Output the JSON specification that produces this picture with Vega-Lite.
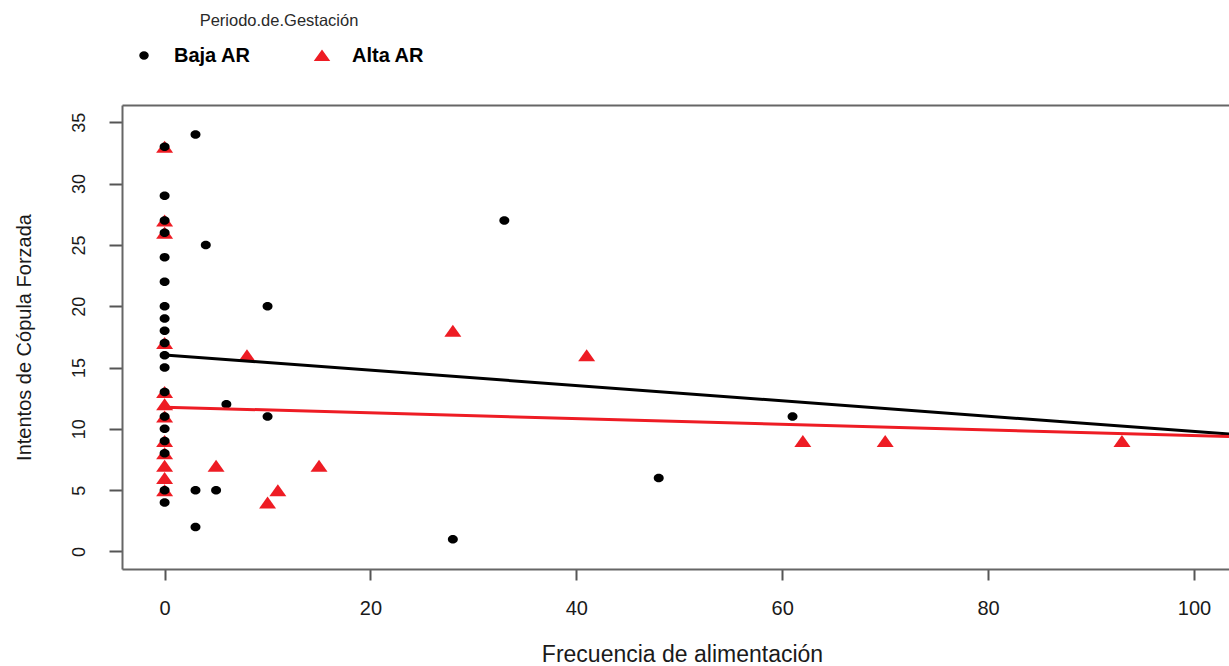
{
  "$schema": "https://vega.github.io/schema/vega-lite/v6.json",
  "width": 1107,
  "height": 464,
  "autosize": {"type": "none"},
  "padding": {"left": 122, "top": 105, "right": 0, "bottom": 97},
  "background": "white",
  "config": {"view": {"stroke": null}, "font": "Liberation Sans"},
  "datasets": {
    "puntos": [
      {"x": 0, "y": 33, "grupo": "Alta AR"},
      {"x": 0, "y": 27, "grupo": "Alta AR"},
      {"x": 0, "y": 26, "grupo": "Alta AR"},
      {"x": 0, "y": 17, "grupo": "Alta AR"},
      {"x": 0, "y": 13, "grupo": "Alta AR"},
      {"x": 0, "y": 12, "grupo": "Alta AR"},
      {"x": 0, "y": 11, "grupo": "Alta AR"},
      {"x": 0, "y": 9, "grupo": "Alta AR"},
      {"x": 0, "y": 8, "grupo": "Alta AR"},
      {"x": 0, "y": 7, "grupo": "Alta AR"},
      {"x": 0, "y": 6, "grupo": "Alta AR"},
      {"x": 0, "y": 5, "grupo": "Alta AR"},
      {"x": 8, "y": 16, "grupo": "Alta AR"},
      {"x": 5, "y": 7, "grupo": "Alta AR"},
      {"x": 10, "y": 4, "grupo": "Alta AR"},
      {"x": 11, "y": 5, "grupo": "Alta AR"},
      {"x": 15, "y": 7, "grupo": "Alta AR"},
      {"x": 28, "y": 18, "grupo": "Alta AR"},
      {"x": 41, "y": 16, "grupo": "Alta AR"},
      {"x": 62, "y": 9, "grupo": "Alta AR"},
      {"x": 70, "y": 9, "grupo": "Alta AR"},
      {"x": 93, "y": 9, "grupo": "Alta AR"},
      {"x": 0, "y": 33, "grupo": "Baja AR"},
      {"x": 0, "y": 29, "grupo": "Baja AR"},
      {"x": 0, "y": 27, "grupo": "Baja AR"},
      {"x": 0, "y": 26, "grupo": "Baja AR"},
      {"x": 0, "y": 24, "grupo": "Baja AR"},
      {"x": 0, "y": 22, "grupo": "Baja AR"},
      {"x": 0, "y": 20, "grupo": "Baja AR"},
      {"x": 0, "y": 19, "grupo": "Baja AR"},
      {"x": 0, "y": 18, "grupo": "Baja AR"},
      {"x": 0, "y": 17, "grupo": "Baja AR"},
      {"x": 0, "y": 16, "grupo": "Baja AR"},
      {"x": 0, "y": 15, "grupo": "Baja AR"},
      {"x": 0, "y": 13, "grupo": "Baja AR"},
      {"x": 0, "y": 11, "grupo": "Baja AR"},
      {"x": 0, "y": 10, "grupo": "Baja AR"},
      {"x": 0, "y": 9, "grupo": "Baja AR"},
      {"x": 0, "y": 8, "grupo": "Baja AR"},
      {"x": 0, "y": 5, "grupo": "Baja AR"},
      {"x": 0, "y": 4, "grupo": "Baja AR"},
      {"x": 3, "y": 34, "grupo": "Baja AR"},
      {"x": 4, "y": 25, "grupo": "Baja AR"},
      {"x": 10, "y": 20, "grupo": "Baja AR"},
      {"x": 6, "y": 12, "grupo": "Baja AR"},
      {"x": 10, "y": 11, "grupo": "Baja AR"},
      {"x": 3, "y": 5, "grupo": "Baja AR"},
      {"x": 5, "y": 5, "grupo": "Baja AR"},
      {"x": 3, "y": 2, "grupo": "Baja AR"},
      {"x": 28, "y": 1, "grupo": "Baja AR"},
      {"x": 33, "y": 27, "grupo": "Baja AR"},
      {"x": 48, "y": 6, "grupo": "Baja AR"},
      {"x": 61, "y": 11, "grupo": "Baja AR"}
    ],
    "lineas": [
      {"x": 0, "y": 16.03, "grupo": "Baja AR"},
      {"x": 103.4, "y": 9.57, "grupo": "Baja AR"},
      {"x": 0, "y": 11.77, "grupo": "Alta AR"},
      {"x": 103.4, "y": 9.37, "grupo": "Alta AR"}
    ]
  },
  "layer": [
    {
      "data": {"name": "puntos"},
      "mark": {"type": "point", "filled": true, "opacity": 1, "size": 100},
      "encoding": {
        "x": {
          "field": "x", "type": "quantitative",
          "scale": {"domain": [-4.14, 103.4], "nice": false, "zero": false},
          "axis": {
            "orient": "bottom",
            "title": "Frecuencia de alimentación",
            "values": [0, 20, 40, 60, 80, 100],
            "grid": false,
            "domainColor": "#666", "domainWidth": 2,
            "tickColor": "#555", "tickWidth": 2, "tickSize": 11,
            "labelFontSize": 20, "labelColor": "#1a1a1a", "labelPadding": 18,
            "titleFontSize": 23, "titleFontWeight": "normal", "titleColor": "#1a1a1a",
            "titlePadding": 25, "titleX": 560
          }
        },
        "y": {
          "field": "y", "type": "quantitative",
          "scale": {"domain": [-1.43, 36.41], "nice": false, "zero": false},
          "axis": {
            "orient": "left",
            "title": "Intentos de Cópula Forzada",
            "values": [0, 5, 10, 15, 20, 25, 30, 35],
            "grid": false,
            "domainColor": "#666", "domainWidth": 2,
            "tickColor": "#555", "tickWidth": 2, "tickSize": 13,
            "labelFontSize": 18, "labelColor": "#1a1a1a", "labelAngle": 270,
            "labelAlign": "center", "labelBaseline": "alphabetic", "labelPadding": 25,
            "titleFontSize": 20, "titleFontWeight": "normal", "titleColor": "#1a1a1a",
            "titlePadding": 36
          }
        },
        "color": {
          "field": "grupo", "type": "nominal",
          "scale": {"domain": ["Baja AR", "Alta AR"], "range": ["#000000", "#ee1c24"]},
          "legend": {
            "orient": "none", "legendX": 12, "legendY": -92,
            "direction": "horizontal",
            "title": "Periodo.de.Gestación",
            "titleFontSize": 16.5, "titleFontWeight": "normal", "titleColor": "#2a2a2a",
            "titleAnchor": "middle", "titlePadding": 16,
            "labelFontSize": 20, "labelFontWeight": "bold", "labelColor": "#000",
            "labelOffset": 20, "columnPadding": 61, "symbolSize": 64
          }
        },
        "shape": {
          "field": "grupo", "type": "nominal",
          "scale": {"domain": ["Baja AR", "Alta AR"], "range": ["M-1,0A1,0.85,0,1,1,1,0A1,0.85,0,1,1,-1,0Z", "M-1.7,1.2L1.7,1.2L0,-1.2Z"]}
        }
      }
    },
    {
      "data": {"name": "lineas"},
      "mark": {"type": "line", "strokeWidth": 3, "clip": true},
      "encoding": {
        "x": {
          "field": "x", "type": "quantitative",
          "axis": {"orient": "top", "labels": false, "ticks": false, "title": null, "grid": false, "domainColor": "#666", "domainWidth": 2}
        },
        "y": {"field": "y", "type": "quantitative"},
        "detail": {"field": "grupo", "type": "nominal"},
        "stroke": {
          "field": "grupo", "type": "nominal",
          "scale": {"domain": ["Baja AR", "Alta AR"], "range": ["#000000", "#ee1c24"]},
          "legend": null
        }
      }
    }
  ]
}
